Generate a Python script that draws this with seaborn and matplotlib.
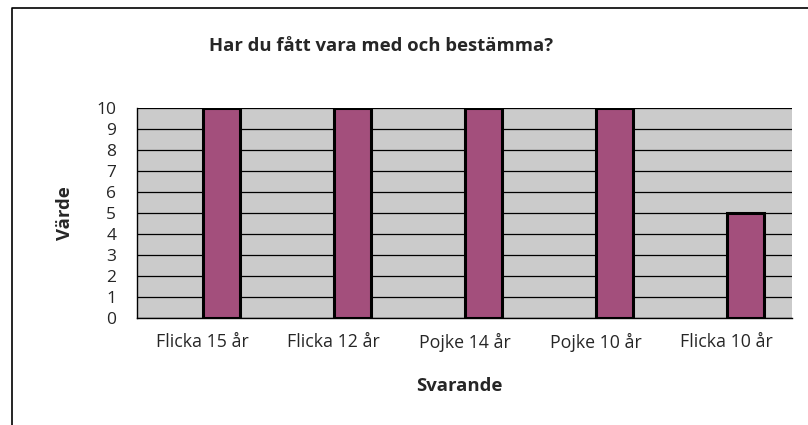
import matplotlib
matplotlib.use("Agg")
import matplotlib.pyplot as plt
import seaborn as sns
import pandas as pd
from matplotlib.lines import Line2D

categories = ["Flicka 15 år", "Flicka 12 år", "Pojke 14 år", "Pojke 10 år", "Flicka 10 år"]
values = [10, 10, 10, 10, 5]
series_names = ["Serie 1", "Serie 2"]  # Serie 1 is empty in the source chart
title = "Har du fått vara med och bestämma?"
xlabel = "Svarande"
ylabel = "Värde"
yticks = list(range(0, 11))

sns.set_style("white")
plt.rcParams["font.family"] = ["Open Sans", "DejaVu Sans"]

W, H = 808, 425
fig = plt.figure(figsize=(W / 100, H / 100), dpi=100)
fig.patch.set_facecolor("white")

# outer chart border (left + top; right/bottom cut off)
fig.add_artist(Line2D([12 / W, 12 / W, 1.0], [0.0, 1 - 8 / H, 1 - 8 / H],
                      transform=fig.transFigure, color="black", lw=1.2))

ax = fig.add_axes([137 / W, 1 - 318 / H, (792 - 137) / W, (318 - 108) / H])
ax.set_facecolor("#CBCBCB")

df = pd.DataFrame({"Svarande": categories, "Värde": values, "Serie": series_names[1]})
bar_color = "#A34F7C"
sns.barplot(data=df, x="Svarande", y="Värde", hue="Serie", hue_order=series_names,
            palette={series_names[0]: bar_color, series_names[1]: bar_color},
            width=0.571, dodge=True, edgecolor="black", linewidth=2.2,
            saturation=1, legend=False, errorbar=None, ax=ax, zorder=3)

ax.set_xlim(-0.5, len(categories) - 0.5)
ax.set_ylim(0, 10)
ax.set_yticks(yticks)
ax.set_yticklabels([str(t) for t in yticks], fontsize=12.5)
ax.grid(axis="y", color="black", lw=0.9, zorder=1)
ax.set_axisbelow(True)

ax.set_xticks(range(len(categories)))
ax.set_xticklabels(categories, fontsize=12.8)
ax.set_xticks([i - 0.5 for i in range(len(categories) + 1)], minor=True)
ax.tick_params(axis="x", which="major", length=0, pad=11)
ax.tick_params(axis="x", which="minor", length=6, width=1, color="black", direction="out")
ax.tick_params(axis="y", length=6, width=1, color="black", direction="out", pad=9)

for s in ["top", "right"]:
    ax.spines[s].set_visible(False)
for s in ["left", "bottom"]:
    ax.spines[s].set_color("black")
    ax.spines[s].set_linewidth(1)

ax.set_xlabel("")
ax.set_ylabel("")
fig.text(381 / W, 1 - 46 / H, title, ha="center", va="center", fontsize=13.3, fontweight="bold")
fig.text(459 / W, 1 - 386 / H, xlabel, ha="center", va="center", fontsize=13.3, fontweight="bold")
fig.text(65 / W, 1 - 213 / H, ylabel, ha="center", va="center", rotation=90, fontsize=13.3, fontweight="bold")

fig.savefig("out.png", dpi=100)
